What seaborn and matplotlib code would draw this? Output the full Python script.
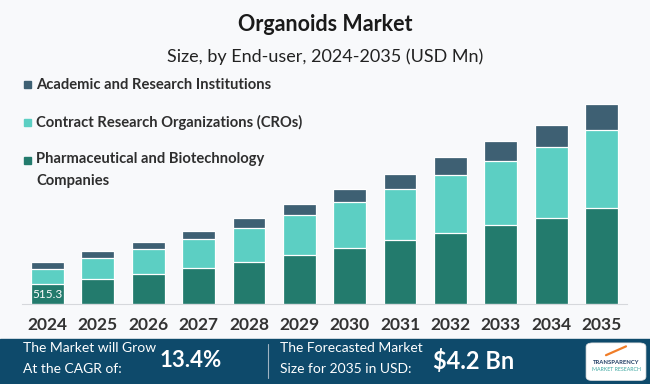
import numpy as np
import pandas as pd
import matplotlib
matplotlib.use("Agg")
import matplotlib.pyplot as plt
from matplotlib.patches import Rectangle, FancyBboxPatch
import seaborn as sns

years = ["2024", "2025", "2026", "2027", "2028", "2029",
         "2030", "2031", "2032", "2033", "2034", "2035"]
pharma = [515.3, 646, 777, 934, 1091, 1274, 1457, 1666, 1849, 2059, 2242, 2503]
cros = [408, 549, 654, 759, 897, 1046, 1203, 1334, 1517, 1674, 1857, 2040]
academic = [175, 191, 191, 217, 269, 303, 356, 400, 487, 531, 591, 688]

labels = ["Academic and Research Institutions",
          "Contract Research Organizations (CROs)",
          "Pharmaceutical and Biotechnology\nCompanies"]
colors = ["#3e6073", "#5ccfc3", "#237b6d"]

df = pd.DataFrame({"Year": years, "pharma": pharma, "cros": cros, "academic": academic})
df["lvl2"] = df["pharma"] + df["cros"]
df["total"] = df["lvl2"] + df["academic"]

sns.set_style("white")
plt.rcParams["font.family"] = ["Lato", "DejaVu Sans"]

bg = "#f8f9fb"
fig = plt.figure(figsize=(6.5, 3.84), dpi=100, facecolor=bg)
ax = fig.add_axes([0.0343, 0.2083, 0.930, 0.6354], facecolor=bg)

# stacked bars: draw totals first, then lower layers on top
for col, c in zip(["total", "lvl2", "pharma"], colors):
    sns.barplot(data=df, x="Year", y=col, color=c, width=0.65,
                edgecolor="white", linewidth=0.9, ax=ax, saturation=1)

ax.set_ylim(0, 6383)
ax.set_xlim(-0.5, 11.5)
ax.set_xlabel("")
ax.set_ylabel("")
ax.set_yticks([])
sns.despine(ax=ax, left=True)
ax.spines["bottom"].set_color("#d6d8dc")
ax.tick_params(axis="x", length=0, pad=9)
for t in ax.get_xticklabels():
    t.set_fontweight("bold")
    t.set_fontsize(12.5)
    t.set_color("#333333")

# value label on first bar
ax.text(0, pharma[0] / 2, f"{pharma[0]:.1f}", ha="center", va="center",
        color="white", fontsize=8.5)

# titles
fig.text(0.5, 0.935, "Organoids Market", ha="center", va="center",
         fontsize=15.5, fontweight="bold", color="#1a1a1a")
fig.text(0.5, 0.853, "Size, by End-user, 2024-2035 (USD Mn)", ha="center",
         va="center", fontsize=13, color="#222222")

# legend drawn manually
leg_y = [84.7, 122.3, 160]
for lab, c, yy in zip(labels, colors, leg_y):
    fig.patches.append(Rectangle((24 / 650, (384 - yy - 3.5) / 384), 7 / 650, 7 / 384,
                                 transform=fig.transFigure, color=c))
    fig.text(36 / 650, (384 - yy) / 384, lab, ha="left", va="top" if "\n" in lab else "center",
             fontsize=10.6, fontweight="bold", color="#2e2e2e", linespacing=1.75)
# fix vertical alignment of the two-line label
fig.texts[-1].set_y((384 - yy + 8) / 384)

# bottom banner
fig.patches.append(Rectangle((0, 0), 1, 45 / 384, transform=fig.transFigure,
                             color="#0e4a6b", zorder=0))
fig.add_artist(plt.Line2D([268 / 650, 268 / 650], [0.015, 0.105],
                          transform=fig.transFigure, color="#9fb3c2", lw=0.8))
fig.text(23 / 650, 0.095, "The Market will Grow", color="white", fontsize=10, va="center")
fig.text(23 / 650, 0.040, "At the CAGR of:", color="white", fontsize=10, va="center")
fig.text(160 / 650, 0.06, "13.4%", color="white", fontsize=16, fontweight="bold", va="center")
fig.text(280 / 650, 0.095, "The Forecasted Market", color="white", fontsize=10, va="center")
fig.text(280 / 650, 0.040, "Size for 2035 in USD:", color="white", fontsize=10, va="center")
fig.text(433 / 650, 0.06, "$4.2 Bn", color="white", fontsize=17, fontweight="bold", va="center")

# logo box
fig.patches.append(FancyBboxPatch((588 / 650, 0.012), 56 / 650, 0.092,
                                  boxstyle="round,pad=0.003,rounding_size=0.01",
                                  transform=fig.transFigure, facecolor="white",
                                  edgecolor="#dddddd", lw=0.5))
fig.text(616 / 650, 0.056, "TRANSPARENCY", ha="center", va="center",
         fontsize=4.2, fontweight="bold", color="#1e3c64")
fig.text(616 / 650, 0.037, "MARKET RESEARCH", ha="center", va="center",
         fontsize=3.8, color="#3aa6a0")
fig.add_artist(plt.Line2D([606 / 650, 626 / 650], [0.075, 0.098],
                          transform=fig.transFigure, color="#f07d28", lw=1.6))

fig.savefig("out.png", dpi=100, facecolor=bg)
